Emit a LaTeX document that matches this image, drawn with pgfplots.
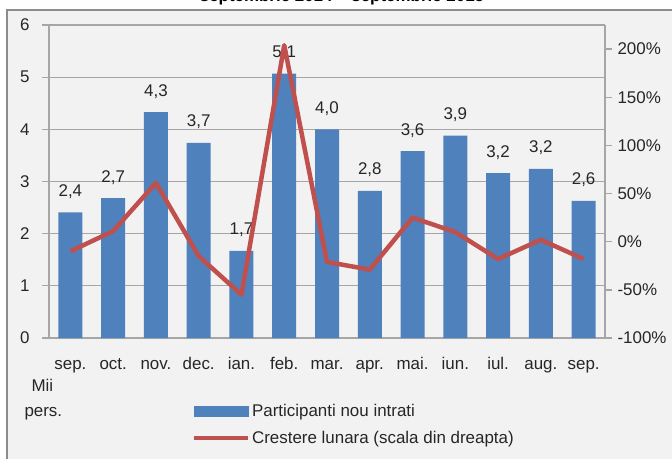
\documentclass[border=0pt]{standalone}
\usepackage{fontspec}
\setmainfont{Liberation Sans}
\usepackage{pgfplots}
\usepackage{pgfplotstable}
\pgfplotsset{compat=1.18}

\definecolor{barblue}{HTML}{4F81BD}
\definecolor{linered}{HTML}{C0504D}
\definecolor{gridgray}{HTML}{A6A6A6}
\definecolor{panel}{HTML}{F2F2F2}
\definecolor{framegray}{HTML}{8C8C8C}

\newcommand{\chartfont}{\fontsize{17}{20}\selectfont}

% participanti nou intrati (mii pers.)
\pgfplotstableread{
idx val
0 2.41
1 2.68
2 4.33
3 3.74
4 1.67
5 5.07
6 4.00
7 2.82
8 3.58
9 3.88
10 3.16
11 3.24
12 2.63
}\participanti

% crestere lunara (%)
\pgfplotstableread{
idx g
0 -10
1 11
2 61
3 -15
4 -55
5 204
6 -21
7 -29
8 25
9 10
10 -18
11 2
12 -18
}\crestere

\pgfplotsset{
  /pgf/number format/assume math mode=true,
}

\begin{document}
\begin{tikzpicture}[x=1bp,y=1bp]
% panel and frame
\fill[panel] (7,-10) rectangle (672,-459);
\draw[framegray, line width=2bp] (7,-459) -- (7,-10) -- (672,-10);

\node[anchor=base, font=\bfseries\chartfont] at (342,-1.5) {septembrie 2014 – septembrie 2015};

\begin{axis}[
  at={(49bp,-338bp)}, anchor=south west,
  scale only axis, width=556bp, height=313bp,
  xmin=-0.5, xmax=12.5, ymin=0, ymax=6,
  axis x line*=bottom, axis y line*=left,
  axis line style={draw=gridgray, line width=1.3bp},
  xtick={0,...,12},
  xticklabels={sep.,oct.,nov.,dec.,ian.,feb.,mar.,apr.,mai.,iun.,iul.,aug.,sep.},
  major x tick style={draw=none},
  ytick={0,...,6},
  tick align=outside, major tick length=7bp,
  y tick style={draw=gridgray, line width=1.3bp},
  ymajorgrids, grid style={draw=gridgray, line width=1.3bp},
  tick label style={font=\chartfont, text=black!85},
  xticklabel style={text height=12.5bp, text depth=3.5bp, yshift=-8bp},
  yticklabel style={xshift=-9bp},
  ybar, bar width=24bp,
  nodes near coords={\pgfmathprintnumber[use comma, fixed, fixed zerofill, precision=1]{\pgfplotspointmeta}},
  nodes near coords style={font=\chartfont, text=black!85, anchor=base, yshift=16bp},
]
\addplot[fill=barblue, draw=none] table[x=idx, y=val] {\participanti};
\end{axis}

\begin{axis}[
  at={(49bp,-338bp)}, anchor=south west,
  scale only axis, width=556bp, height=313bp,
  xmin=-0.5, xmax=12.5, ymin=-100, ymax=225,
  axis x line=none, axis y line*=right,
  axis line style={draw=gridgray, line width=1.3bp},
  ytick={-100,-50,...,200},
  yticklabel={\pgfmathprintnumber{\tick}\%},
  tick align=outside, major tick length=7bp,
  y tick style={draw=gridgray, line width=1.3bp},
  tick label style={font=\chartfont, text=black!85},
  yticklabel style={xshift=2bp},
  legend style={at={(0.257,-0.205)}, anchor=north west, draw=none, fill=none,
    font=\chartfont, text=black!85, row sep=9bp, inner sep=0pt},
  legend cell align=left,
]
\addlegendimage{legend image code/.code={\fill[barblue] (0bp,-5bp) rectangle (54bp,5bp);}}
\addlegendentry{Participanti nou intrati}
\addplot[linered, line width=4.5bp, line join=round, no marks,
  legend image code/.code={\draw[linered, line width=4bp] (0bp,0bp) -- (54bp,0bp);}]
  table[x=idx, y=g] {\crestere};
\addlegendentry{Crestere lunara (scala din dreapta)}
\end{axis}

\node[anchor=base west, font=\chartfont, text=black!85] at (28,-391) {Mii};
\node[anchor=base west, font=\chartfont, text=black!85] at (21,-416) {pers.};

\pgfresetboundingbox
\useasboundingbox (0,0) rectangle (672,-459);
\end{tikzpicture}
\end{document}
